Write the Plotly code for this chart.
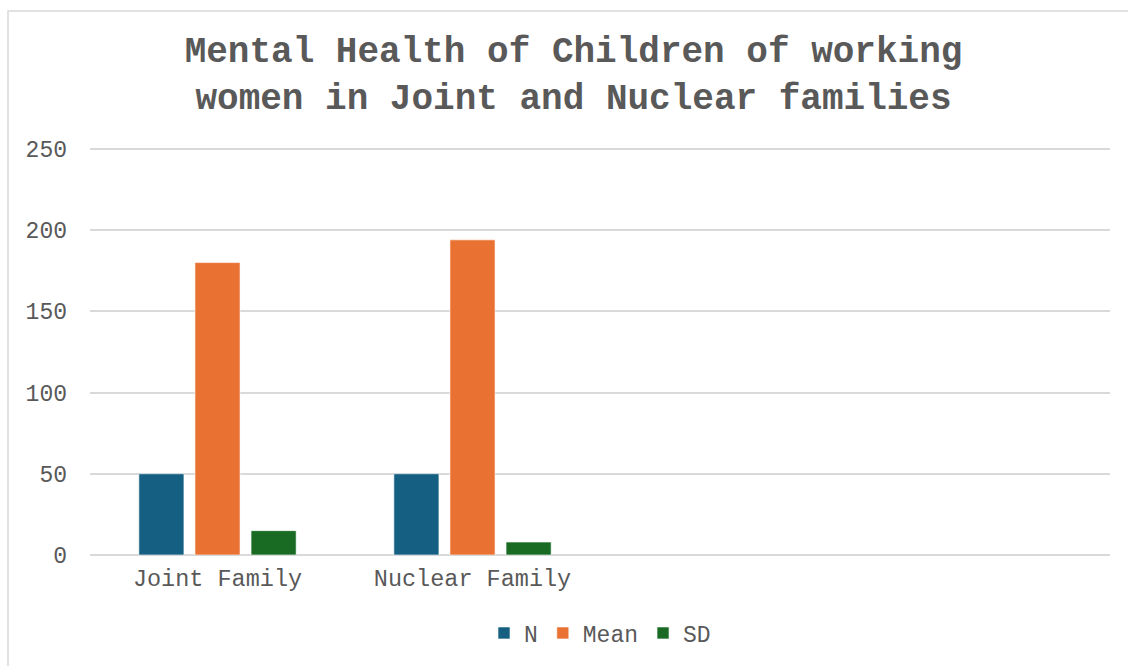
import plotly.graph_objects as go

categories = ["Joint Family", "Nuclear Family"]
n_values = [50, 50]
mean_values = [180, 194]
sd_values = [15, 8]
series_names = ["N", "Mean", "SD"]
colors = ["#156082", "#E97132", "#196B24"]
y_ticks = [0, 50, 100, 150, 200, 250]

W, H = 1128, 666
YMAX = 253
L, R, B = 90, 18, 111
ph = round(406 * YMAX / 250)
T = H - B - ph
pw = W - L - R

fig = go.Figure()
for name, vals, col in zip(series_names, [n_values, mean_values, sd_values], colors):
    fig.add_trace(go.Bar(x=categories, y=vals, name=name,
                         marker=dict(color=col, line=dict(color="rgba(255,255,255,0.6)", width=1))))

def px_x(p):
    return (p - L) / pw

def px_y(p):
    return (H - B - p) / ph

fig.update_layout(
    width=W, height=H,
    margin=dict(l=L, r=R, t=T, b=B),
    paper_bgcolor="white", plot_bgcolor="white",
    barmode="group", bargap=0.34, bargroupgap=0.196,
    font=dict(family="Liberation Mono, Courier New, monospace", color="#595959"),
    title=dict(text="Mental Health of Children of working<br>women in Joint and Nuclear families",
               x=573.5 / W, xanchor="center", y=1 - 62 / H, yanchor="top",
               font=dict(size=36, color="#595959", weight="bold",
                         family="Liberation Mono, Courier New, monospace")),
    xaxis=dict(type="category", range=[-0.5, 3.5], showgrid=False, showline=False,
               ticks="", tickfont=dict(size=23.5, color="#595959"), ticklabelstandoff=6),
    yaxis=dict(range=[0, YMAX], tickvals=y_ticks, showgrid=True, gridcolor="#d9d9d9",
               gridwidth=1.5, zeroline=True, zerolinecolor="#d9d9d9", zerolinewidth=1.5,
               showline=False, ticks="", tickfont=dict(size=23, color="#595959"),
               ticklabelstandoff=22),
    legend=dict(orientation="h", x=0.5, xanchor="center", y=px_y(633), yanchor="middle",
                font=dict(size=23, color="#595959"), itemwidth=30, traceorder="normal"),
    shapes=[dict(type="rect", xref="paper", yref="paper",
                 x0=px_x(8), x1=px_x(1140), y0=px_y(680), y1=px_y(11),
                 line=dict(color="#d9d9d9", width=1.5), layer="below")],
)

fig.write_html("out.html")
